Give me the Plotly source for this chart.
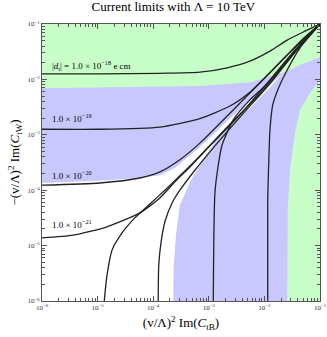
import numpy as np
import plotly.graph_objects as go

# log10 values
# upper-left contours (|d_t| = 1e-18 ... 1e-21)
a_x = [-6, -4.96, -3.88, -3.16, -2.67, -2.26, -1.90, -1.59, -1.27, -1.00]
a_y = [-1.90, -1.90, -1.89, -1.87, -1.79, -1.67, -1.49, -1.29, -1.13, -1.00]
b_x = [-6, -4.96, -3.88, -3.16, -2.62, -2.26, -1.94, -1.63, -1.31, -1.00]
b_y = [-2.90, -2.90, -2.86, -2.71, -2.48, -2.23, -1.92, -1.60, -1.27, -1.00]
c_x = [-6, -4.96, -4.24, -3.88, -3.52, -3.16, -2.62, -2.08, -1.54, -1.00]
c_y = [-3.91, -3.87, -3.78, -3.67, -3.45, -3.15, -2.61, -2.06, -1.51, -1.00]
d_x = [-6, -5.44, -4.83, -4.24, -3.88, -3.61, -3.34, -2.98, -2.44, -1.90, -1.45, -1.00]
d_y = [-4.86, -4.81, -4.66, -4.41, -4.14, -3.85, -3.58, -3.20, -2.64, -2.01, -1.47, -1.00]
# lower-right contours
e_x = [-4.88, -4.83, -4.74, -4.56, -4.33, -4.06, -3.79, -3.52, -3.16, -2.62, -2.08, -1.54, -1.00]
e_y = [-6.00, -5.53, -5.08, -4.77, -4.50, -4.25, -4.00, -3.74, -3.38, -2.81, -2.26, -1.61, -1.00]
f_x = [-3.91, -3.90, -3.86, -3.79, -3.66, -3.52, -3.25, -2.89, -2.44, -1.90, -1.45, -1.00]
f_y = [-6.00, -5.35, -4.95, -4.57, -4.23, -4.00, -3.64, -3.20, -2.68, -2.08, -1.51, -1.00]
g_x = [-2.92, -2.91, -2.89, -2.83, -2.76, -2.56, -2.26, -1.99, -1.67, -1.36, -1.00]
g_y = [-6.00, -4.90, -4.05, -3.55, -3.18, -2.73, -2.37, -2.12, -1.76, -1.38, -1.00]
h_x = [-1.94, -1.94, -1.92, -1.90, -1.85, -1.76, -1.59, -1.36, -1.00]
h_y = [-6.00, -4.18, -3.45, -2.91, -2.46, -2.19, -1.83, -1.43, -1.00]

# allowed regions
blue_x = [-6, -3.16, -2.26, -1.67, -1.36, -1.00, -1.00, -1.18, -1.36, -1.45, -1.54, -1.58, -1.59, -6]
blue_y = [-2.16, -2.12, -2.05, -1.88, -1.74, -1.60, -2.01, -2.25, -2.55, -2.97, -3.64, -4.36, -6, -6]
white_x = [-6, -4.96, -4.24, -3.88, -3.61, -3.16, -2.62, -2.08, -1.67, -2.26, -2.56, -2.89,
           -3.16, -3.34, -3.52, -3.59, -3.63, -3.64, -6]
white_y = [-3.87, -3.83, -3.78, -3.73, -3.60, -3.22, -2.70, -2.23, -1.90, -2.52, -2.77, -3.13,
           -3.55, -3.85, -4.27, -4.81, -5.35, -6, -6]

labels = ["|<i>d</i><sub>t</sub>| = 1.0 × 10<sup>−18</sup> e cm",
          "1.0 × 10<sup>−19</sup>", "1.0 × 10<sup>−20</sup>", "1.0 × 10<sup>−21</sup>"]
label_y = [-1.74, -2.70, -3.73, -4.61]

exps = [-6, -5, -4, -3, -2, -1]
tick_text = ["10<sup>−%d</sup>" % -e for e in exps]

p = lambda v: np.power(10.0, v)
FONT = "Liberation Serif, Times New Roman, serif"

fig = go.Figure()
fig.add_trace(go.Scatter(x=p(blue_x), y=p(blue_y), fill="toself", fillcolor="#c8c8ff",
                         line=dict(width=0), mode="lines", hoverinfo="skip"))
fig.add_trace(go.Scatter(x=p(white_x), y=p(white_y), fill="toself", fillcolor="white",
                         line=dict(width=0), mode="lines", hoverinfo="skip"))

for xs, ys in [(a_x, a_y), (b_x, b_y), (c_x, c_y), (d_x, d_y),
               (e_x, e_y), (f_x, f_y), (g_x, g_y), (h_x, h_y)]:
    fig.add_trace(go.Scatter(x=p(xs), y=p(ys), mode="lines", hoverinfo="skip",
                             line=dict(color="#222222", width=1.3, shape="spline", smoothing=0.6)))

for txt, ly in zip(labels, label_y):
    fig.add_annotation(x=-5.86, y=ly, text=txt, showarrow=False, xanchor="left",
                       font=dict(family=FONT, size=9, color="black"))

axis = dict(type="log", range=[-6, -1], tickvals=[p(e) for e in exps], ticktext=tick_text,
            ticks="inside", ticklen=5, tickcolor="#555", mirror="ticks", showline=True,
            linecolor="#555", linewidth=1, showgrid=False, zeroline=False, automargin=False,
            tickfont=dict(family=FONT, size=7, color="#333"),
            minor=dict(ticks="inside", ticklen=3, tickcolor="#555", dtick="D1", showgrid=False))

fig.update_layout(
    width=327, height=337,
    margin=dict(l=42, r=7, t=24, b=36),
    plot_bgcolor="#c8ffc8", paper_bgcolor="white",
    showlegend=False,
    title=dict(text="Current limits with Λ = 10 TeV", x=0.53, xanchor="center", y=0.995,
               yanchor="top", font=dict(family=FONT, size=13, color="black")),
    xaxis=dict(axis, title=dict(text="(v/Λ)<sup>2</sup> Im(<i>C</i><sub>tB</sub>)", standoff=6,
                                font=dict(family=FONT, size=13, color="black"))),
    yaxis=dict(axis, title=dict(text="−(v/Λ)<sup>2</sup> Im(<i>C</i><sub>tW</sub>)", standoff=4,
                                font=dict(family=FONT, size=13, color="black"))),
)

# the page's default body margin would shift the figure by 8px
fig.write_html("out.html", config={"displayModeBar": False},
               post_script="document.body.style.margin='0';")
